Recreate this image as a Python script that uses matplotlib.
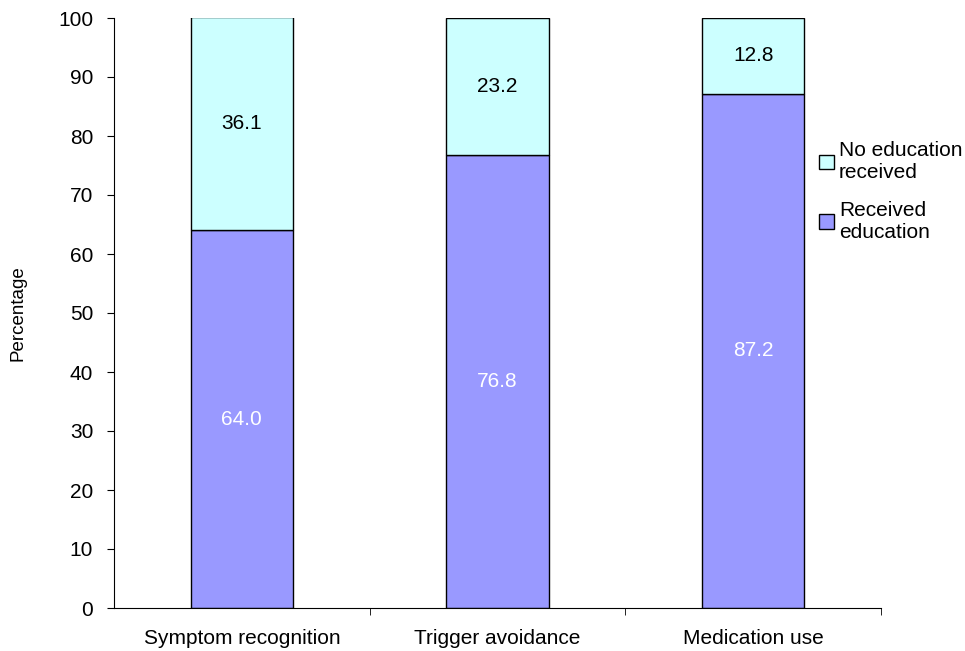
import matplotlib
matplotlib.use('Agg')
import matplotlib.pyplot as plt
import numpy as np

plt.rcParams['font.family'] = ['Liberation Sans', 'DejaVu Sans']

categories = ['Symptom recognition', 'Trigger avoidance', 'Medication use']
received = [64.0, 76.8, 87.2]
not_received = [36.1, 23.2, 12.8]

fig = plt.figure(figsize=(9.65, 6.51), dpi=100)
ax = fig.add_axes([114/965, 1 - 608/651, (881 - 114)/965, (608 - 18)/651])

x = np.arange(len(categories))
w = 0.40
b1 = ax.bar(x, received, w, color='#9999FF', edgecolor='black', linewidth=1)
b2 = ax.bar(x, not_received, w, bottom=received, color='#CCFFFF', edgecolor='black',
            linewidth=1)

fs = 15
for xi, r, n in zip(x, received, not_received):
    ax.text(xi, r / 2, f'{r:.1f}', ha='center', va='center', color='white', fontsize=fs)
    ax.text(xi, r + n / 2, f'{n:.1f}', ha='center', va='center', color='black', fontsize=fs)

ax.set_xlim(-0.5, 2.5)
ax.set_ylim(0, 100)
ax.set_yticks(range(0, 101, 10))
ax.set_xticks(x)
ax.set_xticklabels(categories, fontsize=fs)
ax.tick_params(axis='x', length=0, pad=15)
ax.tick_params(axis='y', labelsize=fs, length=5, direction='out', pad=10)
ax.set_xticks([0.5, 1.5, 2.5], minor=True)
ax.tick_params(axis='x', which='minor', length=5, direction='out')
ax.spines['top'].set_visible(False)
ax.spines['right'].set_visible(False)
ax.set_ylabel('Percentage', fontsize=13.5)
ax.yaxis.set_label_coords((27 - 114) / 767, 0.5)

ax.legend([b2, b1], ['No education\nreceived', 'Received\neducation'],
          loc='upper left', bbox_to_anchor=(815/965, 1 - 137/651),
          bbox_transform=fig.transFigure, frameon=False, fontsize=fs,
          handlelength=0.7, handleheight=0.7, handletextpad=0.25,
          labelspacing=0.9, borderaxespad=0, borderpad=0.2)

fig.savefig('out.png', dpi=100)
